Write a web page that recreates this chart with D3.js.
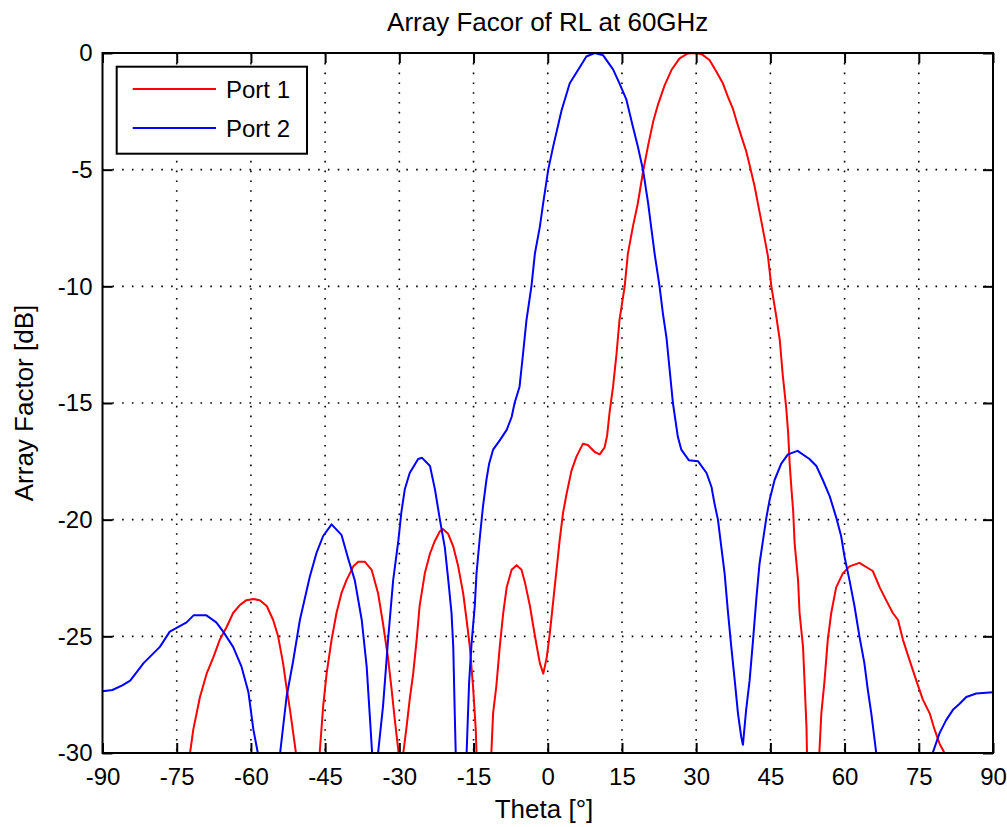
<!DOCTYPE html>
<html>
<head>
<meta charset="utf-8">
<script src="https://cdn.jsdelivr.net/npm/d3@7"></script>
<style>
  html, body { margin: 0; padding: 0; background: #fff; }
  svg { display: block; font-family: "Liberation Sans", Arial, Helvetica, sans-serif; }
</style>
</head>
<body>
<svg id="chart" width="1007" height="827"></svg>
<script>
// ---------------- data ----------------
const titleText = "Array Facor of RL at 60GHz";
const xLabelText = "Theta [°]";
const yLabelText = "Array Factor [dB]";
const seriesNames = ["Port 1", "Port 2"];
const seriesColors = ["#ff0000", "#0000ff"];
const xTicks = [-90, -75, -60, -45, -30, -15, 0, 15, 30, 45, 60, 75, 90];
const yTicks = [0, -5, -10, -15, -20, -25, -30];

// Port 1 (red)
const port1Theta = [-74, -72.3, -71.65, -70.3, -68.95, -67.6, -66.3, -64.9, -63.6, -62.2, -60.9, -59.5, -58.2, -56.8, -55.5, -54.5, -53.5, -52.8, -52.1, -51.45, -50.9, -48.5,
  -46.1, -45.4, -44.7, -43.7, -42.7, -41.7, -40.7, -39.3, -38.3, -37.0, -35.6, -34.3, -33.3, -32.3, -31.6, -30.9, -30.2, -29.7,
  -29.2, -28.55, -27.9, -27.2, -26.5, -25.9, -24.85, -23.8, -22.8, -21.8, -21.2, -20.15, -19.1, -18.1, -17.1, -16.4, -15.75, -15.1, -14.55, -14.4, -12.9,
  -11.4, -11.05, -10.4, -9.7, -9.0, -8.3, -7.3, -6.3, -5.3, -4.6, -3.6, -2.9, -2.2, -1.6, -0.9, -0.2, 0.4, 1.4, 2.4, 3.1, 3.8, 4.8, 5.8, 7.1, 8.1, 9.5, 10.5, 11.5, 12.0, 12.5,
  13.2, 13.9, 14.5, 15.55, 16.2, 17.2, 18.2, 19.25, 20.3, 21.3, 22.3, 23.6, 25.0, 26.65, 28.3, 30.0, 31.1, 32.7, 34.1, 35.4, 36.4, 37.4, 38.1, 39.1, 40.1, 40.8,
  41.8, 42.8, 43.8, 44.5, 45.2, 46.2, 46.9, 47.5, 48.2, 48.6, 48.9, 49.3, 49.6, 49.9, 50.6, 50.9, 51.6, 51.9, 52.3, 52.4, 53.6,
  54.9, 55.3, 55.95, 56.6, 57.3, 58.3, 59.65, 61.0, 63.0, 65.7, 67.1, 68.4, 69.75, 70.8, 71.8, 73.1, 74.5, 75.8, 77.2, 78.2, 79.2, 80.2, 85, 90];
const port1Db = [-40, -30, -29.0, -27.6, -26.6, -25.9, -25.15, -24.6, -24.0, -23.65, -23.45, -23.4, -23.45, -23.7, -24.3, -25.0, -26.15, -27.2, -28.15, -29.15, -30, -40,
  -30, -28.0, -26.6, -25.15, -24.0, -23.15, -22.6, -22.0, -21.8, -21.8, -22.15, -23.15, -24.45, -25.9, -27.2, -28.6, -29.9, -35,
  -30, -28.9, -27.7, -26.6, -25.15, -23.7, -22.3, -21.45, -20.9, -20.5, -20.4, -20.6, -21.15, -22.0, -23.15, -24.3, -25.45, -27.15, -29.0, -30, -40,
  -30, -28.3, -27.15, -25.45, -24.0, -22.9, -22.15, -21.95, -22.15, -22.7, -23.7, -24.6, -25.45, -26.15, -26.6, -25.9, -24.9, -22.9, -20.9, -19.7, -18.9, -17.9, -17.3, -16.75, -16.8, -17.1, -17.2, -16.9, -16.4, -15.4,
  -14.3, -12.9, -11.45, -10.0, -8.6, -7.45, -6.45, -5.1, -3.95, -2.95, -2.2, -1.4, -0.73, -0.23, -0.02, 0, -0.05, -0.3, -0.8, -1.3, -1.87, -2.37, -2.87, -3.55, -4.2, -4.8,
  -5.7, -6.8, -7.9, -8.7, -10.0, -11.3, -12.3, -13.8, -15.2, -16.3, -17.6, -18.8, -19.6, -21.0, -22.6, -24.0, -25.45, -26.9, -28.9, -30, -40,
  -30, -28.3, -26.9, -25.15, -24.0, -22.9, -22.3, -22.0, -21.85, -22.2, -22.9, -23.45, -24.0, -24.3, -25.15, -26.0, -26.9, -27.7, -28.3, -29.0, -29.6, -30, -40, -45];

// Port 2 (blue)
const port2Theta = [-90, -88, -86, -84.4, -81.7, -78.4, -76.4, -73, -71.6, -69, -67, -65.6, -63.6, -61.9, -60.5, -59.5, -58.6, -56.5,
  -54.1, -52.8, -51.5, -50.1, -48.1, -46.7, -45.4, -43.7, -41.7, -40.3, -39, -37.6, -36.6, -36, -35.5, -35,
  -34.3, -33.3, -32.9, -32.3, -31.25, -30.2, -29.6, -28.9, -27.9, -26.2, -25.4, -23.8, -22.8, -21.8, -20.8, -20.1, -19.45, -19.1, -18.8, -18.6, -17.5,
  -16.4, -15.9, -15.4, -14.75, -14.4, -13.7, -13.1, -12.4, -11.85, -11.05, -9.7, -8.3, -7.3, -6.7, -5.7, -5.0, -4.3, -3.3, -2.6, -1.6, -0.9, 0.1, 1.1, 2.8, 4.45, 6.5, 7.8, 9.5, 11.2,
  13.2, 14.5, 15.9, 17.2, 18.2, 19.25, 20.3, 20.9, 21.6, 22.6, 23.3, 24.0, 24.65, 25.3, 26.3, 27.0, 28.5, 30.4, 32.1, 33.1, 33.7, 34.4, 35.1, 35.75, 36.4, 37.1, 37.8, 38.45, 39.1, 39.45,
  40.1, 40.8, 41.5, 42.2, 42.8, 43.5, 44.2, 44.85, 45.85, 47.2, 48.55, 50.5, 52.9, 54.3, 55.6, 57.0, 58.3, 59.3, 60.0, 61.0, 62.0, 63.0, 64.0, 64.7, 65.4, 66.4, 72,
  77.8, 79.2, 80.5, 81.9, 83.2, 84.6, 86.6, 90];
const port2Db = [-27.35, -27.3, -27.1, -26.9, -26.15, -25.45, -24.8, -24.4, -24.1, -24.1, -24.4, -24.8, -25.45, -26.3, -27.4, -29.0, -30, -40,
  -30, -27.6, -26.1, -24.3, -22.45, -21.4, -20.7, -20.2, -20.65, -21.7, -22.6, -24.3, -26.3, -28.3, -30, -40,
  -30, -28.0, -26.9, -25.2, -22.6, -20.9, -19.7, -18.7, -18.0, -17.4, -17.35, -17.7, -18.7, -20.0, -21.2, -22.6, -24.0, -25.45, -28.3, -30, -40,
  -30, -27.0, -25.3, -23.7, -22.3, -20.7, -19.45, -18.3, -17.6, -17.0, -16.6, -16.15, -15.6, -15.0, -14.3, -12.9, -11.45, -10.0, -8.6, -7.45, -6.4, -5.0, -4.0, -2.45, -1.3, -0.6, -0.15, 0, -0.1,
  -0.7, -1.3, -2.0, -3.15, -4.0, -5.0, -6.45, -7.45, -8.6, -10.0, -11.2, -12.2, -13.6, -15.0, -16.45, -17.0, -17.45, -17.5, -18.0, -18.6, -19.3, -20.0, -21.2, -22.3, -23.9, -25.45, -26.9, -28.3, -29.3, -29.65,
  -28.15, -26.9, -25.15, -23.3, -21.9, -20.9, -19.9, -19.15, -18.3, -17.6, -17.2, -17.05, -17.4, -17.7, -18.3, -19.0, -19.9, -20.7, -21.6, -22.6, -23.7, -25.0, -26.15, -27.3, -28.3, -30, -40,
  -30, -29.15, -28.6, -28.15, -27.9, -27.6, -27.45, -27.4];

// ---------------- chart ----------------
const svg = d3.select("#chart");
const W = 1007, H = 827;
const plot = { left: 102.5, right: 993, top: 53, bottom: 753 };

svg.append("rect").attr("width", W).attr("height", H).attr("fill", "#fff");

const x = d3.scaleLinear().domain([-90, 90]).range([plot.left, plot.right]);
const y = d3.scaleLinear().domain([-30, 0]).range([plot.bottom, plot.top]);

// clip
svg.append("defs").append("clipPath").attr("id", "plotClip")
  .append("rect")
  .attr("x", plot.left).attr("y", plot.top)
  .attr("width", plot.right - plot.left).attr("height", plot.bottom - plot.top);

// grid
const grid = svg.append("g").attr("class", "grid");
grid.selectAll("line.vx").data(xTicks.filter(t => t > -90 && t < 90)).enter()
  .append("line")
  .attr("x1", d => x(d)).attr("x2", d => x(d))
  .attr("y1", plot.top).attr("y2", plot.bottom)
  .attr("stroke", "#000").attr("stroke-width", 1.6)
  .attr("stroke-dasharray", "1.6 8.2");
grid.selectAll("line.hy").data(yTicks.filter(t => t > -30 && t < 0)).enter()
  .append("line")
  .attr("x1", plot.left).attr("x2", plot.right)
  .attr("y1", d => y(d)).attr("y2", d => y(d))
  .attr("stroke", "#000").attr("stroke-width", 1.6)
  .attr("stroke-dasharray", "1.6 8.2");

// curves
const line = d3.line().x(d => x(d[0])).y(d => y(d[1])).curve(d3.curveLinear);
const series = [
  d3.zip(port1Theta, port1Db),
  d3.zip(port2Theta, port2Db)
];
const curves = svg.append("g").attr("clip-path", "url(#plotClip)");
series.forEach((s, i) => {
  curves.append("path")
    .datum(s)
    .attr("d", line)
    .attr("fill", "none")
    .attr("stroke", seriesColors[i])
    .attr("stroke-width", 2)
    .attr("stroke-linejoin", "round");
});

// axes
const tickFont = 24;
const fmt = d => String(d);  // plain hyphen-minus like the reference
const styleAxis = g => {
  g.select(".domain").remove();
  g.selectAll(".tick line").attr("stroke", "#000").attr("stroke-width", 2);
  g.selectAll(".tick text").attr("fill", "#000").attr("font-size", tickFont)
    .attr("font-family", "'Liberation Sans', Arial, sans-serif");
};

svg.append("g").attr("transform", `translate(0,${plot.bottom})`)
  .call(d3.axisBottom(x).tickValues(xTicks).tickFormat(fmt).tickSizeInner(-10).tickSizeOuter(0).tickPadding(15))
  .call(styleAxis);
svg.append("g").attr("transform", `translate(0,${plot.top})`)
  .call(d3.axisTop(x).tickValues(xTicks).tickFormat("").tickSizeInner(-10).tickSizeOuter(0))
  .call(styleAxis);
svg.append("g").attr("transform", `translate(${plot.left},0)`)
  .call(d3.axisLeft(y).tickValues(yTicks).tickFormat(fmt).tickSizeInner(-10).tickSizeOuter(0).tickPadding(10))
  .call(styleAxis);
svg.append("g").attr("transform", `translate(${plot.right},0)`)
  .call(d3.axisRight(y).tickValues(yTicks).tickFormat("").tickSizeInner(-10).tickSizeOuter(0))
  .call(styleAxis);

// frame
svg.append("rect")
  .attr("x", plot.left).attr("y", plot.top)
  .attr("width", plot.right - plot.left).attr("height", plot.bottom - plot.top)
  .attr("fill", "none").attr("stroke", "#000").attr("stroke-width", 2);

// title & labels
svg.append("text").attr("x", (plot.left + plot.right) / 2).attr("y", 31)
  .attr("text-anchor", "middle").attr("font-size", 26).attr("fill", "#000")
  .text(titleText);
svg.append("text").attr("x", 544).attr("y", 818)
  .attr("text-anchor", "middle").attr("font-size", 26).attr("fill", "#000")
  .text(xLabelText);
svg.append("text")
  .attr("transform", `translate(33,${(plot.top + plot.bottom) / 2}) rotate(-90)`)
  .attr("text-anchor", "middle").attr("font-size", 26).attr("fill", "#000")
  .text(yLabelText);

// legend
const legend = svg.append("g");
legend.append("rect")
  .attr("x", 116.7).attr("y", 66.7).attr("width", 190.3).attr("height", 87)
  .attr("fill", "#fff").attr("stroke", "#000").attr("stroke-width", 2);
const legY = [89, 128];
seriesNames.forEach((name, i) => {
  legend.append("line")
    .attr("x1", 132.7).attr("x2", 216).attr("y1", legY[i]).attr("y2", legY[i])
    .attr("stroke", seriesColors[i]).attr("stroke-width", 2);
  legend.append("text")
    .attr("x", 226).attr("y", legY[i]).attr("dy", "0.36em")
    .attr("font-size", 24).attr("fill", "#000")
    .text(name);
});
</script>
</body>
</html>
